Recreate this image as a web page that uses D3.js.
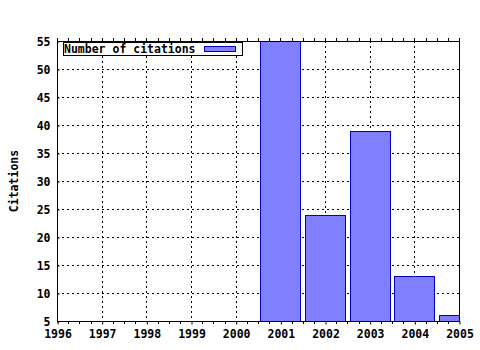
<!DOCTYPE html>
<html><head><meta charset="utf-8">
<script src="https://cdn.jsdelivr.net/npm/d3@7"></script>
<style>body{margin:0;background:#fff}svg{display:block}</style>
</head><body><svg id="c" width="480" height="350"></svg>
<script>
const years = [2001, 2002, 2003, 2004, 2005];
const citations = [55, 24, 39, 13, 6];
const xTicks = [1996,1997,1998,1999,2000,2001,2002,2003,2004,2005];
const yTicks = [5,10,15,20,25,30,35,40,45,50,55];
const seriesName = "Number of citations";
const yTitle = "Citations";

const svg = d3.select("#c");
const L=57, R=459, T=41, B=321;
const x = d3.scaleLinear().domain([1996,2005]).range([L,R]);
const y = d3.scaleLinear().domain([5,55]).range([B,T]);
const font = "'DejaVu Sans Mono', monospace";

svg.append("rect").attr("x",0).attr("y",0).attr("width",480).attr("height",350).attr("fill","#fff");

// grid
const g = svg.append("g").attr("stroke","#000").attr("stroke-width",1).attr("stroke-dasharray","2,3");
g.selectAll(".vx").data(xTicks.slice(1,-1)).join("line")
  .attr("x1",d=>Math.round(x(d))+0.5).attr("x2",d=>Math.round(x(d))+0.5).attr("y1",T).attr("y2",B);
g.selectAll(".hy").data(yTicks.slice(1,-1)).join("line")
  .attr("y1",d=>Math.round(y(d))+0.5).attr("y2",d=>Math.round(y(d))+0.5).attr("x1",L).attr("x2",R);

// bars
svg.append("clipPath").attr("id","clip").append("rect").attr("x",L).attr("y",T).attr("width",R-L).attr("height",B-T);
const bw = 40;
svg.append("g").attr("clip-path","url(#clip)").selectAll("rect").data(years).join("rect")
  .attr("x",(d)=>Math.round(x(d)-bw/2)+0.5)
  .attr("y",(d,i)=>Math.round(y(citations[i]))+0.5)
  .attr("width",bw)
  .attr("height",(d,i)=>Math.round(y(5))-Math.round(y(citations[i])))
  .attr("fill","#8080ff").attr("stroke","#0000c0").attr("stroke-width",1);

// axes
const xAxis = d3.axisBottom(x).tickValues(xTicks).tickFormat(d3.format("d")).tickSize(3).tickPadding(5);
const xa = svg.append("g").attr("transform",`translate(0.5,${B+0.5})`).call(xAxis);
xa.select(".domain").remove();
xa.selectAll("text").attr("font-family",font).attr("font-weight","bold").attr("font-size","11.5px").attr("fill","#000");
const minor = [];
for(let yr=1996; yr<2005; yr++) for(let k=1;k<4;k++) minor.push(yr+k/4);
svg.append("g").attr("stroke","#000").selectAll("line").data(minor).join("line")
  .attr("x1",d=>Math.round(x(d))+0.5).attr("x2",d=>Math.round(x(d))+0.5).attr("y1",B).attr("y2",B+3);
svg.append("g").attr("stroke","#000").selectAll("line").data(minor.concat(xTicks)).join("line")
  .attr("x1",d=>Math.round(x(d))+0.5).attr("x2",d=>Math.round(x(d))+0.5).attr("y1",T-3).attr("y2",T);

const yAxis = d3.axisLeft(y).tickValues(yTicks).tickSize(3).tickPadding(4);
const ya = svg.append("g").attr("transform",`translate(${L+0.5},0.5)`).call(yAxis);
ya.select(".domain").remove();
ya.selectAll(".tick line").attr("x2",2);
ya.selectAll("text").attr("font-family",font).attr("font-weight","bold").attr("font-size","11.5px").attr("fill","#000");

// frame
svg.append("rect").attr("x",L+0.5).attr("y",T+0.5).attr("width",R-L).attr("height",B-T)
  .attr("fill","none").attr("stroke","#000").attr("stroke-width",1);

// y title
svg.append("text").attr("transform",`translate(18,${(T+B)/2}) rotate(-90)`)
  .attr("text-anchor","middle").attr("font-family",font).attr("font-weight","bold").attr("font-size","11.5px")
  .text(yTitle);

// legend
const lg = svg.append("g");
lg.append("rect").attr("x",63.5).attr("y",42.5).attr("width",179).attr("height",13).attr("fill","#fff").attr("stroke","#000");
lg.append("text").attr("x",64).attr("y",53).attr("font-family",font).attr("font-weight","bold").attr("font-size","11.5px").text(seriesName);
lg.append("rect").attr("x",204.5).attr("y",46.5).attr("width",31).attr("height",5).attr("fill","#8080ff").attr("stroke","#0000c0");
</script></body></html>
